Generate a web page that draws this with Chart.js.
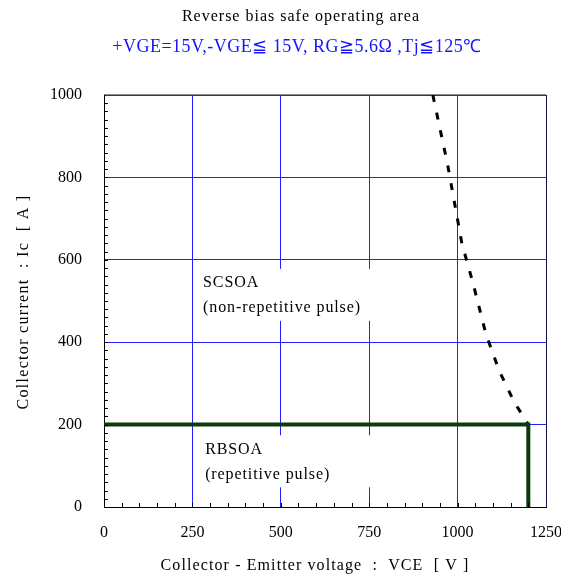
<!DOCTYPE html>
<html>
<head>
<meta charset="utf-8">
<script src="https://cdn.jsdelivr.net/npm/chart.js@4"></script>
<style>
  html, body { margin: 0; padding: 0; background: #ffffff; }
  #wrap { width: 561px; height: 576px; }
</style>
</head>
<body>
<div id="wrap"><canvas id="soa" width="561" height="576"></canvas></div>
<script>
// SCSOA boundary (dashed): collector-emitter voltage [V] vs collector current [A]
const scsoaVoltage = [930, 972, 1012, 1043, 1080, 1118, 1160, 1200];
const scsoaCurrent = [1000, 830, 640, 545, 420, 330, 255, 200];

// RBSOA boundary (solid)
const rbsoaVoltage = [0, 1200, 1200];
const rbsoaCurrent = [200, 200, 0];

// Axis ticks
const voltageTicks = [0, 250, 500, 750, 1000, 1250];
const currentTicks = [0, 200, 400, 600, 800, 1000];

const titleText = 'Reverse bias safe operating area';
const subtitleText = '+VGE=15V,-VGE\u2266 15V, RG\u22675.6\u03a9 ,Tj\u2266125\u2103';
const xTitle = 'Collector - Emitter voltage  :  VCE  [ V ]';
const yTitle = 'Collector current  : Ic  [ A ]';

const SERIF = '"Liberation Serif", "Times New Roman", serif';

const toPoints = (xs, ys) => xs.map((x, i) => ({ x: x, y: ys[i] }));

// Region notes with white backing boxes (voltage/current anchors)
const regionNotes = [
  { lines: ['SCSOA', '(non-repetitive pulse)'], v: 280, a: 544 },
  { lines: ['RBSOA', '(repetitive pulse)'], v: 286, a: 140 }
];

function drawText(ctx, text, x, y, font, color, align, spacing) {
  ctx.font = font;
  ctx.fillStyle = color;
  ctx.textAlign = align;
  ctx.textBaseline = 'middle';
  ctx.letterSpacing = spacing + 'px';
  ctx.fillText(text, x, y);
  ctx.letterSpacing = '0px';
}

const framePlugin = {
  id: 'frame',
  beforeDatasetsDraw(chart) {
    const { ctx, scales: { x, y } } = chart;
    ctx.save();
    regionNotes.forEach(n => {
      const px = x.getPixelForValue(n.v);
      const py = y.getPixelForValue(n.a);
      ctx.fillStyle = '#ffffff';
      ctx.fillRect(px - 7, py - 14, 184, 52);
      n.lines.forEach((t, i) =>
        drawText(ctx, t, px, py + i * 25, '16px ' + SERIF, '#000000', 'left', 0.9));
    });
    ctx.restore();
  },
  afterDraw(chart) {
    const { ctx, chartArea: a, scales: { x, y } } = chart;
    ctx.save();
    // top and right frame
    ctx.lineWidth = 1;
    ctx.strokeStyle = '#8a8a8a';
    ctx.beginPath();
    ctx.moveTo(a.left, Math.round(a.top) - 0.5);
    ctx.lineTo(a.right, Math.round(a.top) - 0.5);
    ctx.stroke();
    ctx.strokeStyle = '#10104a';
    ctx.beginPath();
    ctx.moveTo(Math.round(a.right) + 0.5, a.top);
    ctx.lineTo(Math.round(a.right) + 0.5, a.bottom);
    ctx.stroke();
    // inward minor ticks
    ctx.strokeStyle = '#000000';
    ctx.beginPath();
    for (let v = 20; v < 1000; v += 20) {
      const py = Math.round(y.getPixelForValue(v)) + 0.5;
      ctx.moveTo(a.left, py);
      ctx.lineTo(a.left + 4, py);
    }
    for (let v = 50; v < 1250; v += 50) {
      const px = Math.round(x.getPixelForValue(v)) + 0.5;
      ctx.moveTo(px, a.bottom);
      ctx.lineTo(px, a.bottom - 4);
    }
    ctx.stroke();
    // titles
    drawText(ctx, titleText, 301, 17, '16px ' + SERIF, '#000000', 'center', 1);
    drawText(ctx, subtitleText, 297, 47, '18px ' + SERIF, '#1414ff', 'center', 0.5);
    // axis titles
    drawText(ctx, xTitle, 315, 566, '16px ' + SERIF, '#000000', 'center', 1.1);
    ctx.save();
    ctx.translate(24, 302);
    ctx.rotate(-Math.PI / 2);
    drawText(ctx, yTitle, 0, 0, '16px ' + SERIF, '#000000', 'center', 1.3);
    ctx.restore();
    ctx.restore();
  }
};

new Chart(document.getElementById('soa'), {
  type: 'line',
  data: {
    datasets: [
      {
        label: 'RBSOA',
        data: toPoints(rbsoaVoltage, rbsoaCurrent),
        borderColor: '#0c3a0c',
        borderWidth: 4,
        pointRadius: 0,
        tension: 0,
        borderCapStyle: 'butt',
        borderJoinStyle: 'miter'
      },
      {
        label: 'SCSOA',
        data: toPoints(scsoaVoltage, scsoaCurrent),
        borderColor: '#000000',
        borderWidth: 3,
        borderDash: [7, 11],
        pointRadius: 0,
        tension: 0
      }
    ]
  },
  options: {
    responsive: false,
    animation: false,
    devicePixelRatio: 1,
    layout: { padding: { top: 95, right: 15, left: 0, bottom: 0 } },
    plugins: { legend: { display: false }, tooltip: { enabled: false } },
    scales: {
      x: {
        type: 'linear',
        min: 0,
        max: 1250,
        afterBuildTicks: s => { s.ticks = voltageTicks.map(v => ({ value: v })); },
        afterFit: s => { s.height = 69; s.paddingLeft = 0; s.paddingRight = 0; },
        ticks: {
          color: '#000000', padding: 16,
          font: { family: SERIF, size: 16 },
          callback: v => String(v)
        },
        grid: { color: '#1f1fff', lineWidth: 1, drawTicks: false },
        border: { color: '#000000', width: 1 }
      },
      y: {
        type: 'linear',
        min: 0,
        max: 1000,
        afterBuildTicks: s => { s.ticks = currentTicks.map(v => ({ value: v })); },
        afterFit: s => { s.width = 104; s.paddingTop = 0; s.paddingBottom = 0; },
        ticks: {
          color: '#000000', padding: 22,
          font: { family: SERIF, size: 16 },
          callback: v => String(v)
        },
        grid: { color: '#1f1fff', lineWidth: 1, drawTicks: false },
        border: { color: '#000000', width: 1 }
      }
    }
  },
  plugins: [framePlugin]
});
</script>
</body>
</html>
